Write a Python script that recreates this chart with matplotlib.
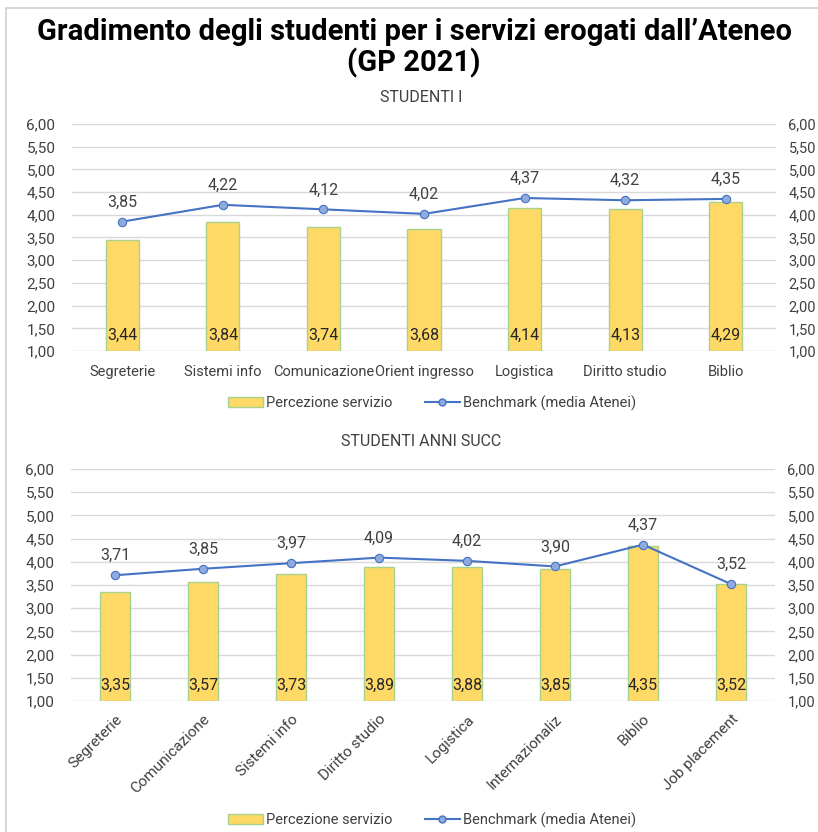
import matplotlib
matplotlib.use("Agg")
import matplotlib.pyplot as plt
from matplotlib.patches import Patch, Rectangle
from matplotlib.lines import Line2D

plt.rcParams['font.family'] = ['Roboto', 'DejaVu Sans']

title = "Gradimento degli studenti per i servizi erogati dall\u2019Ateneo\n(GP 2021)"

cat1 = ["Segreterie", "Sistemi info", "Comunicazione", "Orient ingresso", "Logistica", "Diritto studio", "Biblio"]
perc1 = [3.44, 3.84, 3.74, 3.68, 4.14, 4.13, 4.29]
bench1 = [3.85, 4.22, 4.12, 4.02, 4.37, 4.32, 4.35]

cat2 = ["Segreterie", "Comunicazione", "Sistemi info", "Diritto studio", "Logistica", "Internazionaliz", "Biblio", "Job placement"]
perc2 = [3.35, 3.57, 3.73, 3.89, 3.88, 3.85, 4.35, 3.52]
bench2 = [3.71, 3.85, 3.97, 4.09, 4.02, 3.90, 4.37, 3.52]

yticks = [1.0, 1.5, 2.0, 2.5, 3.0, 3.5, 4.0, 4.5, 5.0, 5.5, 6.0]

BAR = "#FFD966"
EDGE = "#A9D18E"
LINE = "#4472C4"
MFACE = "#8FAADC"
TXT = "#404040"
GRID = "#D9D9D9"

W, H = 818, 832
fig = plt.figure(figsize=(W / 100, H / 100), dpi=100)

# outer frame
fig.patches.append(Rectangle((6 / W, -0.1), 2, 1 - 8 / H + 0.1, transform=fig.transFigure,
                             fill=False, edgecolor="#D0D0D0", linewidth=1.2))

fig.text(0.5 + 5 / W, 1 - 48 / H, title, ha="center", va="center", fontsize=21,
         fontweight="bold", color="black", linespacing=1.1)


def fmt(v):
    return f"{v:.2f}".replace(".", ",")


def make(rect, cats, perc, bench, subtitle, rotate, legy):
    ax = fig.add_axes(rect)
    x = list(range(len(cats)))
    ax.bar(x, [p - 1 for p in perc], bottom=1, width=0.33, color=BAR, edgecolor=EDGE, linewidth=1, zorder=2)
    ax.plot(x, bench, color=LINE, linewidth=1.5, marker="o", markersize=6,
            markerfacecolor=MFACE, markeredgecolor=LINE, markeredgewidth=0.8, zorder=3)
    ax.set_ylim(1, 6)
    ax.set_xlim(-0.5, len(cats) - 0.5)
    ax.set_yticks(yticks)
    ax.set_yticklabels([fmt(v) for v in yticks], fontsize=11, color=TXT)
    ax.grid(axis="y", color=GRID, linewidth=1, zorder=0)
    ax.set_axisbelow(True)
    for s in ax.spines.values():
        s.set_visible(False)
    ax.tick_params(axis="y", length=0, pad=12)
    ax.tick_params(axis="x", length=0, pad=8)
    ax.set_xticks(x)
    if rotate:
        ax.set_xticklabels(cats, rotation=45, ha="right", rotation_mode="anchor", fontsize=11, color=TXT)
    else:
        ax.set_xticklabels(cats, fontsize=10.5, color=TXT)
        ax.tick_params(axis="x", pad=10)
    for xi, p, b in zip(x, perc, bench):
        ax.annotate(fmt(p), (xi, 1), xytext=(0, 11), textcoords="offset points",
                    ha="center", va="center", fontsize=11.5, color="#262626", zorder=4)
        ax.annotate(fmt(b), (xi, b), xytext=(0, 14), textcoords="offset points",
                    ha="center", va="center", fontsize=11.5, color=TXT, zorder=4)
    ax2 = ax.twinx()
    ax2.set_ylim(1, 6)
    ax2.set_yticks(yticks)
    ax2.set_yticklabels([fmt(v) for v in yticks], fontsize=10.5, color=TXT)
    ax2.tick_params(axis="y", length=0, pad=9)
    for s in ax2.spines.values():
        s.set_visible(False)
    fig.text(0.5 + 12 / W, rect[1] + rect[3] + 27 / H, subtitle, ha="center", va="center",
             fontsize=11.5, color=TXT)
    handles = [Patch(facecolor=BAR, edgecolor=EDGE, linewidth=1),
               Line2D([0], [0], color=LINE, linewidth=1.5, marker="o", markersize=5,
                      markerfacecolor=MFACE, markeredgecolor=LINE)]
    fig.legend(handles, ["Percezione servizio", "Benchmark (media Atenei)"], loc="center",
               bbox_to_anchor=(432 / W, legy), ncol=2, frameon=False, fontsize=10.5,
               handlelength=2.4, handletextpad=0.2, columnspacing=2.2,
               labelcolor=TXT)
    return ax


make([72 / W, 1 - 351 / H, 704 / W, 227 / H], cat1, perc1, bench1, "STUDENTI I", False, 1 - 403 / H)
make([71 / W, 1 - 701 / H, 704 / W, 232 / H], cat2, perc2, bench2, "STUDENTI ANNI SUCC", True, 1 - 820 / H)

fig.savefig("out.png", dpi=100, facecolor="white")
